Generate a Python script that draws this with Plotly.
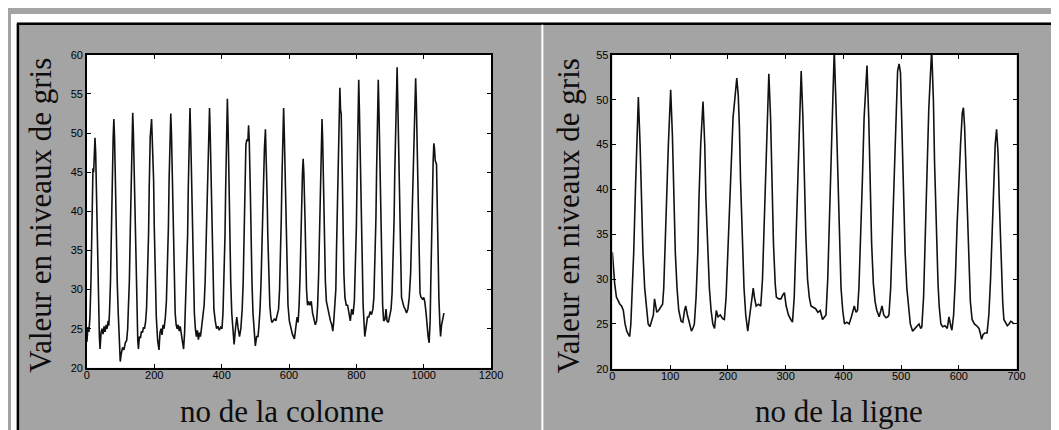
import plotly.graph_objects as go
from plotly.subplots import make_subplots

# ---- data ----
# left panel: grey level along the column index
col_x = [0, 3, 6, 9, 12, 15, 18, 20, 22, 24, 26, 29, 31, 34, 37, 39,
         42, 45, 48, 51, 54, 57, 60, 63, 65, 67,
         70, 73, 75, 78, 80, 82, 85, 87, 90, 93, 96, 99,
         102, 106, 110, 114, 118, 121, 123,
         126, 129, 131, 134, 136, 138, 141, 143, 146, 149, 151, 153,
         156, 159, 162, 165, 168, 171, 174, 177,
         180, 183, 185, 188, 192, 194, 196, 198, 200, 203, 206, 210, 214,
         217, 220, 223, 226, 229, 233, 236,
         239, 242, 244, 247, 249, 251, 254, 256, 259, 262, 265, 268, 271, 274, 277, 280, 283, 287, 290, 292,
         296, 299, 301, 304, 306, 308, 311, 313, 316, 319, 322, 325, 328, 331, 334, 337, 340, 343, 348,
         351, 354, 357, 361, 364, 366, 369, 371, 374, 377, 381, 385, 389, 393, 397, 401, 404,
         407, 410, 412, 415, 417, 419, 422, 424, 427, 430, 433, 437, 441, 445, 449, 453, 457, 461,
         464, 467, 469, 472, 475, 478, 480, 482, 485, 487, 490, 493, 496, 500, 504, 508, 511, 514,
         517, 520, 522, 527, 530, 532, 535, 537, 540, 543, 546, 549, 553, 557, 561, 565, 569, 572,
         575, 577, 579, 582, 584, 586, 589, 591, 594, 597, 601, 605, 610, 616, 620, 624, 627, 630,
         633, 635, 637, 640, 642, 644, 647, 649, 652, 655, 658, 662, 666, 670, 674, 678, 682, 685,
         688, 690, 693, 696, 698, 700, 703, 705, 708, 711, 715, 719, 723, 727, 730, 733, 736, 739,
         741, 743, 746, 748, 751, 753, 755, 758, 760, 763, 766, 770, 774, 778, 782, 786, 790, 794,
         797, 800, 802, 805, 807, 809, 812, 814, 817, 820, 825, 829, 833, 837, 841, 845, 849, 852,
         855, 858, 860, 863, 865, 867, 870, 872, 875, 878, 881, 885, 888, 891, 895, 899, 903, 906,
         909, 912, 914, 918, 921, 923, 926, 928, 931, 934, 937, 941, 945, 949, 953, 957, 961,
         964, 966, 969, 973, 976, 978, 981, 983, 986, 989, 992, 996, 1000, 1003, 1007, 1010, 1013, 1016, 1019,
         1021, 1023, 1025, 1028, 1030, 1032, 1034, 1036, 1038, 1040, 1042, 1045, 1048, 1050, 1053, 1056, 1060]
col_y = [23.3, 25.2, 24.6, 26.5, 31, 39, 45.5, 45, 47, 49.4, 47.5, 40, 34, 28, 24, 22.4,
         24.5, 25, 24.3, 25.3, 24.6, 25.5, 25, 26, 25.4, 27,
         31, 38, 44, 49.5, 51.8, 49.5, 43, 37, 31, 27, 23.5, 20.8,
         21.8, 22.6, 22.3, 23.2, 23.5, 25, 27.5,
         31, 38, 44, 50, 52.6, 50, 43, 37, 31, 26.5, 23.5, 22.4,
         24, 23.8, 24.7, 24.5, 25.2, 25, 25.8, 27.5,
         31, 37, 43, 49.5, 51.8, 49, 48.5, 44, 38, 31, 26.5, 23.5, 22.3,
         24.5, 25, 24.2, 25.5, 25, 26.5, 28.5,
         32, 38, 44, 50, 52.5, 50, 43, 37, 31, 27, 25.5, 25, 25.5, 24.7, 25.3, 24.5, 24, 22.4, 24.5, 27,
         31, 37, 43, 50, 53.2, 50, 43, 37, 31, 27, 25, 24, 24.8, 23.6, 24.5, 24, 25, 26, 28,
         31, 36, 42, 49.5, 53.2, 50, 43, 37, 31, 27.5, 26, 25, 25.3, 24.8, 25.2, 25, 27,
         31, 37, 43, 51, 54.4, 51, 43, 37, 31, 27, 24.5, 23, 25, 26.5, 25, 24, 25, 27.5,
         31, 37, 43, 48.5, 49.2, 49, 51, 49, 43, 37, 31, 27, 24.5, 22.8, 24, 24, 25.5, 27.5,
         31, 37, 42, 48, 50.5, 48, 42, 37, 31, 28, 26.5, 25.8, 26, 26.3, 26, 27, 27.5, 30,
         34, 39, 44, 50, 53.2, 50, 43, 37, 31, 28, 26, 25, 24.3, 23.7, 25.5, 26.5, 25.8, 28,
         32, 37, 41, 45, 46.7, 45, 40, 35, 30, 28, 28.5, 28, 28.5, 27, 26, 25.5, 26, 28,
         32, 37, 44, 49.5, 51.8, 49, 42, 37, 31, 28.5, 27.5, 27, 26, 25.5, 24.7, 26, 27.5, 30,
         35, 40, 48, 52.5, 55.8, 53, 52.5, 45, 39, 32, 29, 28, 28, 27, 26, 27.5, 26.8, 28.5,
         32, 38, 44, 52, 56.8, 53, 45, 39, 32, 28, 24, 25.5, 26.5, 26.5, 27.2, 26.8, 27.5, 29,
         33, 39, 45, 52, 56.8, 53, 45, 39, 32, 28, 26, 26.2, 27.5, 26, 25.8, 26.5, 27.5, 29.5,
         33, 39, 45, 54, 58.4, 54, 46, 40, 33, 29, 28.5, 27.8, 27.5, 27, 27.5, 29, 32,
         37, 43, 49, 54, 57, 54, 46, 40, 33, 29.5, 29, 28.8, 29, 28.5, 27, 25, 24, 23.2, 26,
         31, 37, 42, 46.5, 48.7, 48, 46.5, 46.2, 46, 41, 35, 29, 25.5, 24, 25.5, 26.3, 27]

# right panel: grey level along the line index
lig_x = [0, 2, 4, 7, 10, 13, 16, 19, 22, 25, 28, 30, 32, 34, 37, 40, 42, 45, 48, 50, 53, 56, 59, 62, 65,
         68, 71, 73, 75, 77, 80, 83, 87, 89, 92, 94, 97, 101, 104, 106, 109, 112, 115, 119, 122, 125,
         127, 130, 134, 137, 140, 142, 145, 148, 150, 153, 157, 160, 162, 165, 168, 171, 174, 177, 180,
         183, 187, 191, 194, 197, 200, 203, 206, 209, 212, 215.5, 218, 220, 222, 225, 228, 231, 234.5,
         237, 240, 243, 244, 246, 249, 253, 257, 260, 263, 265, 268, 271, 274, 276, 279, 282, 284, 288,
         292, 295, 298, 301, 305, 309, 312, 315, 318, 321, 324, 327, 330, 332, 335, 338, 341, 344, 348,
         352, 356, 360, 364, 367, 370, 373, 376, 379, 382, 384.3, 387, 390, 393, 396, 399, 402, 406,
         410, 414, 417, 419, 422, 424.6, 427, 430, 433, 436, 441, 444, 446, 449, 452, 455, 458, 462,
         465, 467, 470, 474, 477, 479, 482, 485, 488, 491, 494, 496.6, 499, 501, 504, 507, 510, 513,
         516, 520, 524, 528, 531, 534, 536, 539, 542, 545, 548, 553, 556, 558, 561, 564, 566, 569, 572,
         576, 580, 583, 586, 588, 591, 594, 597, 600, 603, 606, 608, 610, 612, 615, 618, 620, 623, 627,
         631, 635, 637, 639.5, 642, 645, 649, 652, 655, 658, 661, 663, 665.4, 668, 670, 673, 676, 678,
         681, 684, 687, 690, 692.5, 695]
lig_y = [33, 31, 29.5, 28, 27.5, 27.2, 27, 26.5, 25, 24.2, 23.8, 23.6, 25, 28, 33, 40, 45, 50.3, 45, 40,
         33, 29, 26.5, 25, 24.7, 25.5, 26, 27.8, 27, 26.3, 26.5, 26.8, 27.2, 29, 34, 39, 45, 51.1, 46,
         40, 33, 29, 26.5, 25.3, 25.2, 26.5, 27, 26, 25, 24.2, 24.6, 25, 28, 33, 39, 45, 49.8, 45, 39,
         33, 29, 26.5, 25, 24.5, 26.5, 25.8, 26, 25.6, 25.5, 28, 33, 40, 45, 48, 50, 52.4, 50.5, 47,
         41, 34, 29, 26, 24.2, 25.5, 27, 28.5, 29, 28, 27, 27.2, 27, 30, 36, 42, 48, 52.9, 48, 42, 34,
         29.5, 28, 27.8, 27.8, 28.2, 28.5, 27, 26, 25.5, 25.2, 28, 34, 41, 48, 53.2, 48, 42, 35, 30,
         28, 27, 26.8, 26.7, 26.3, 26.5, 25.5, 25.8, 26, 30, 37, 44, 51, 55.6, 50, 42, 34, 29, 26.5,
         25, 25.2, 25, 25.8, 26.5, 27, 26.3, 26.5, 29, 34, 41, 48, 53.8, 48, 42, 34, 29.5, 27.5, 26.5,
         25.8, 26.5, 27, 26, 25.7, 25.8, 26, 29, 35, 42, 49, 53.2, 54, 53, 48, 40, 33, 29, 26.5, 25,
         24.2, 24.5, 24.8, 25, 24.5, 24.7, 28, 35, 42, 49, 55.6, 50, 43, 35, 29.5, 27, 25, 24.7, 24.8,
         24.5, 25.8, 24.8, 24.3, 26, 30, 36, 41, 45, 48.5, 49.1, 47, 43, 36, 30, 27.5, 25.5, 25, 24.8,
         24.5, 24, 23.3, 23.8, 24, 24, 26, 30, 36, 42, 45, 46.7, 44, 39, 32, 27.5, 25.5, 25.2, 24.8,
         25, 25.3, 25.2, 25]

col_ticks_x = [0, 200, 400, 600, 800, 1000, 1200]
col_ticks_y = [20, 25, 30, 35, 40, 45, 50, 55, 60]
lig_ticks_x = [0, 100, 200, 300, 400, 500, 600, 700]
lig_ticks_y = [20, 25, 30, 35, 40, 45, 50, 55]

y_title = "Valeur en niveaux de gris"
x_title_left = "no de la colonne"
x_title_right = "no de la ligne"

# ---- figure ----
W, H = 1059, 430
fig = make_subplots(rows=1, cols=2)

line_style = dict(color="#111111", width=1.6)
fig.add_trace(go.Scatter(x=col_x, y=col_y, mode="lines", line=line_style,
                         showlegend=False, hoverinfo="skip"), row=1, col=1)
fig.add_trace(go.Scatter(x=lig_x, y=lig_y, mode="lines", line=line_style,
                         showlegend=False, hoverinfo="skip"), row=1, col=2)

def px_x(p):
    return p / W

def px_y(p):
    return 1 - p / H

tick_font = dict(family="Arial, Liberation Sans, sans-serif", size=11, color="black")
axis_common = dict(showline=True, linecolor="black", linewidth=1.5, mirror="ticks",
                   ticks="inside", ticklen=4, tickwidth=1.2, tickcolor="black",
                   showgrid=False, zeroline=False, tickfont=tick_font)

fig.update_layout(
    width=W, height=H,
    margin=dict(l=0, r=0, t=0, b=0),
    paper_bgcolor="#a4a4a4",
    plot_bgcolor="white",
    xaxis=dict(domain=[px_x(77), px_x(487)], range=[0, 1200], tickvals=col_ticks_x,
               ticklabelstandoff=-4, **axis_common),
    yaxis=dict(domain=[px_y(364), px_y(42)], range=[20, 60], tickvals=col_ticks_y, **axis_common),
    xaxis2=dict(domain=[px_x(610), px_x(1020)], range=[0, 700], tickvals=lig_ticks_x,
                ticklabelstandoff=-4, **axis_common),
    yaxis2=dict(domain=[px_y(365), px_y(42)], range=[20, 55], tickvals=lig_ticks_y, **axis_common),
)

title_font = dict(family="Liberation Serif, Times New Roman, serif", size=31, color="#0d0d0d")
fig.add_annotation(text=y_title, xref="paper", yref="paper", x=px_x(30), y=px_y(207),
                   textangle=-90, showarrow=False, xanchor="center", yanchor="middle", font=title_font)
fig.add_annotation(text=y_title, xref="paper", yref="paper", x=px_x(565), y=px_y(207),
                   textangle=-90, showarrow=False, xanchor="center", yanchor="middle", font=title_font)
fig.add_annotation(text=x_title_left, xref="paper", yref="paper", x=px_x(275), y=px_y(409),
                   showarrow=False, xanchor="center", yanchor="middle", font=title_font)
fig.add_annotation(text=x_title_right, xref="paper", yref="paper", x=px_x(840), y=px_y(409),
                   showarrow=False, xanchor="center", yanchor="middle", font=title_font)

# frame of the scanned figure
shapes = [
    dict(type="rect", xref="paper", yref="paper", x0=0, x1=1, y0=px_y(9), y1=1,
         fillcolor="white", line=dict(width=0)),
    dict(type="rect", xref="paper", yref="paper", x0=0, x1=px_x(6), y0=0, y1=1,
         fillcolor="white", line=dict(width=0)),
    dict(type="line", xref="paper", yref="paper", x0=px_x(6), x1=1, y0=px_y(10), y1=px_y(10),
         line=dict(color="black", width=2.5)),
    dict(type="line", xref="paper", yref="paper", x0=px_x(7), x1=px_x(7), y0=0, y1=px_y(10),
         line=dict(color="black", width=2.5)),
    dict(type="line", xref="paper", yref="paper", x0=px_x(539), x1=px_x(539), y0=0, y1=px_y(11),
         line=dict(color="white", width=2)),
]
fig.update_layout(shapes=shapes)

fig.write_html("out.html")
